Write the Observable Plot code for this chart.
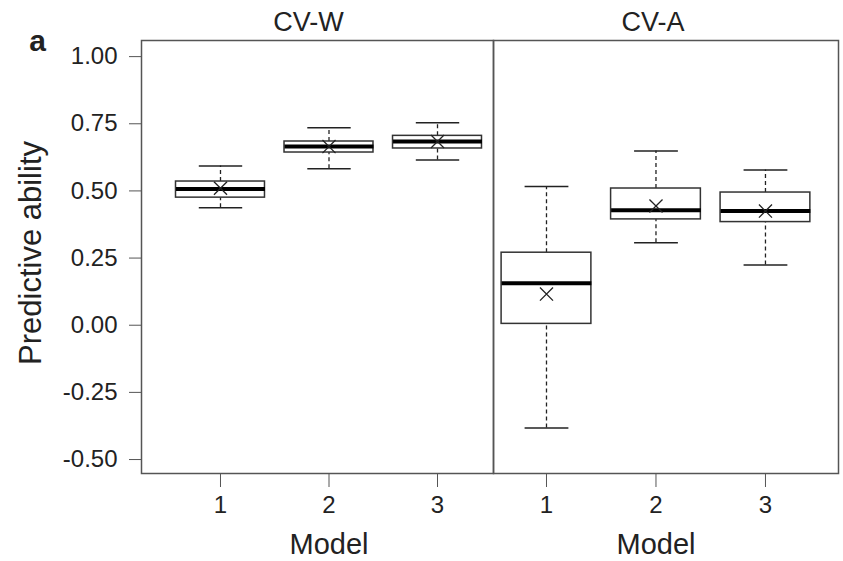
<!DOCTYPE html>
<html>
<head>
<meta charset="utf-8">
<script src="https://cdn.jsdelivr.net/npm/d3@7"></script>
<script src="https://cdn.jsdelivr.net/npm/@observablehq/plot@0.6"></script>
<style>
  html, body { margin: 0; padding: 0; background: white; }
  #chart { display: flex; flex-direction: row; width: 843px; height: 561px; }
  #chart svg { flex: none; max-width: none; overflow: visible; }
</style>
</head>
<body>
<div id="chart"></div>
<script>
const models = [1, 2, 3];
const modelTickLabels = ["1", "2", "3"];
const yTicks = [-0.5, -0.25, 0, 0.25, 0.5, 0.75, 1.0];
const panelNames = ["CV-W", "CV-A"];
const yLabel = "Predictive ability";
const xLabel = "Model";
const figLetter = "a";

// CV-W
const cvwLow    = [0.437, 0.583, 0.615];
const cvwQ1     = [0.475, 0.643, 0.658];
const cvwMedian = [0.507, 0.665, 0.684];
const cvwQ3     = [0.535, 0.684, 0.705];
const cvwHigh   = [0.593, 0.735, 0.754];
const cvwMean   = [0.510, 0.665, 0.684];

// CV-A
const cvaLow    = [-0.383, 0.307, 0.224];
const cvaQ1     = [0.005, 0.394, 0.384];
const cvaMedian = [0.156, 0.428, 0.425];
const cvaQ3     = [0.270, 0.509, 0.494];
const cvaHigh   = [0.516, 0.649, 0.578];
const cvaMean   = [0.116, 0.444, 0.425];

function rowsOf(low, q1, med, q3, high, mean) {
  return models.map((m, i) => ({model: m, low: low[i], q1: q1[i], median: med[i], q3: q3[i], high: high[i], mean: mean[i]}));
}
const cvwRows = rowsOf(cvwLow, cvwQ1, cvwMedian, cvwQ3, cvwHigh, cvwMean);
const cvaRows = rowsOf(cvaLow, cvaQ1, cvaMedian, cvaQ3, cvaHigh, cvaMean);

const boxHalf = 0.41;
const capHalf = 0.2;
const font = "Liberation Sans, Arial, Helvetica, sans-serif";
const ink = "#222";
const frameInk = "#555";

function boxMarks(rows) {
  return [
    Plot.ruleX(rows, {x: "model", y1: "q3", y2: "high", stroke: ink, strokeWidth: 1.3, strokeDasharray: "4,3"}),
    Plot.ruleX(rows, {x: "model", y1: "low", y2: "q1", stroke: ink, strokeWidth: 1.3, strokeDasharray: "4,3"}),
    Plot.link(rows, {x1: d => d.model - capHalf, x2: d => d.model + capHalf, y1: "high", y2: "high", stroke: ink, strokeWidth: 1.5}),
    Plot.link(rows, {x1: d => d.model - capHalf, x2: d => d.model + capHalf, y1: "low", y2: "low", stroke: ink, strokeWidth: 1.5}),
    Plot.rect(rows, {x1: d => d.model - boxHalf, x2: d => d.model + boxHalf, y1: "q1", y2: "q3", fill: "white", stroke: "#333", strokeWidth: 1.5}),
    Plot.link(rows, {x1: d => d.model - boxHalf, x2: d => d.model + boxHalf, y1: "median", y2: "median", stroke: "black", strokeWidth: 4}),
    Plot.dot(rows, {x: "model", y: "mean", symbol: "times", r: 6, stroke: ink, strokeWidth: 1.3})
  ];
}

const yDomain = [-0.552, 1.06];

const left = Plot.plot({
  width: 493, height: 561,
  marginLeft: 141, marginRight: 0, marginTop: 40, marginBottom: 88,
  style: {fontFamily: font, fontSize: "24px", color: ink, background: "transparent"},
  x: {domain: [0.272, 3.516]},
  y: {domain: yDomain},
  marks: [
    ...boxMarks(cvwRows),
    Plot.frame({stroke: frameInk, strokeWidth: 1.5}),
    Plot.axisY({ticks: yTicks, tickFormat: d => d.toFixed(2), tickSize: 12, tickPadding: 12, fontSize: 24, label: null, stroke: frameInk}),
    Plot.axisX({ticks: models, tickFormat: (d, i) => modelTickLabels[i], tickSize: 14, tickPadding: 8, fontSize: 24, label: null, stroke: frameInk}),
    Plot.text([panelNames[0]], {frameAnchor: "top", textAnchor: "middle", lineAnchor: "middle", dx: -9, dy: -18, fontSize: 27, fill: ink}),
    Plot.text([xLabel], {x: 2, frameAnchor: "bottom", textAnchor: "middle", lineAnchor: "middle", dy: 71, fontSize: 29, fill: ink}),
    Plot.text([yLabel], {frameAnchor: "left", textAnchor: "middle", lineAnchor: "middle", rotate: -90, dx: -110, dy: -4, fontSize: 31, fill: ink}),
    Plot.text([figLetter], {frameAnchor: "top-left", textAnchor: "middle", lineAnchor: "middle", dx: -104, dy: 1, fontSize: 30, fontWeight: "bold", fill: ink})
  ]
});

const right = Plot.plot({
  width: 350, height: 561,
  marginLeft: 0, marginRight: 5, marginTop: 40, marginBottom: 88,
  style: {fontFamily: font, fontSize: "24px", color: ink, background: "transparent"},
  x: {domain: [0.516, 3.667]},
  y: {domain: yDomain, axis: null},
  marks: [
    ...boxMarks(cvaRows),
    Plot.frame({stroke: frameInk, strokeWidth: 1.5}),
    Plot.axisX({ticks: models, tickFormat: (d, i) => modelTickLabels[i], tickSize: 14, tickPadding: 8, fontSize: 24, label: null, stroke: frameInk}),
    Plot.text([panelNames[1]], {frameAnchor: "top", textAnchor: "middle", lineAnchor: "middle", dx: -13, dy: -18, fontSize: 27, fill: ink}),
    Plot.text([xLabel], {x: 2, frameAnchor: "bottom", textAnchor: "middle", lineAnchor: "middle", dy: 71, fontSize: 29, fill: ink})
  ]
});

const chart = document.getElementById("chart");
chart.appendChild(left);
chart.appendChild(right);
</script>
</body>
</html>
